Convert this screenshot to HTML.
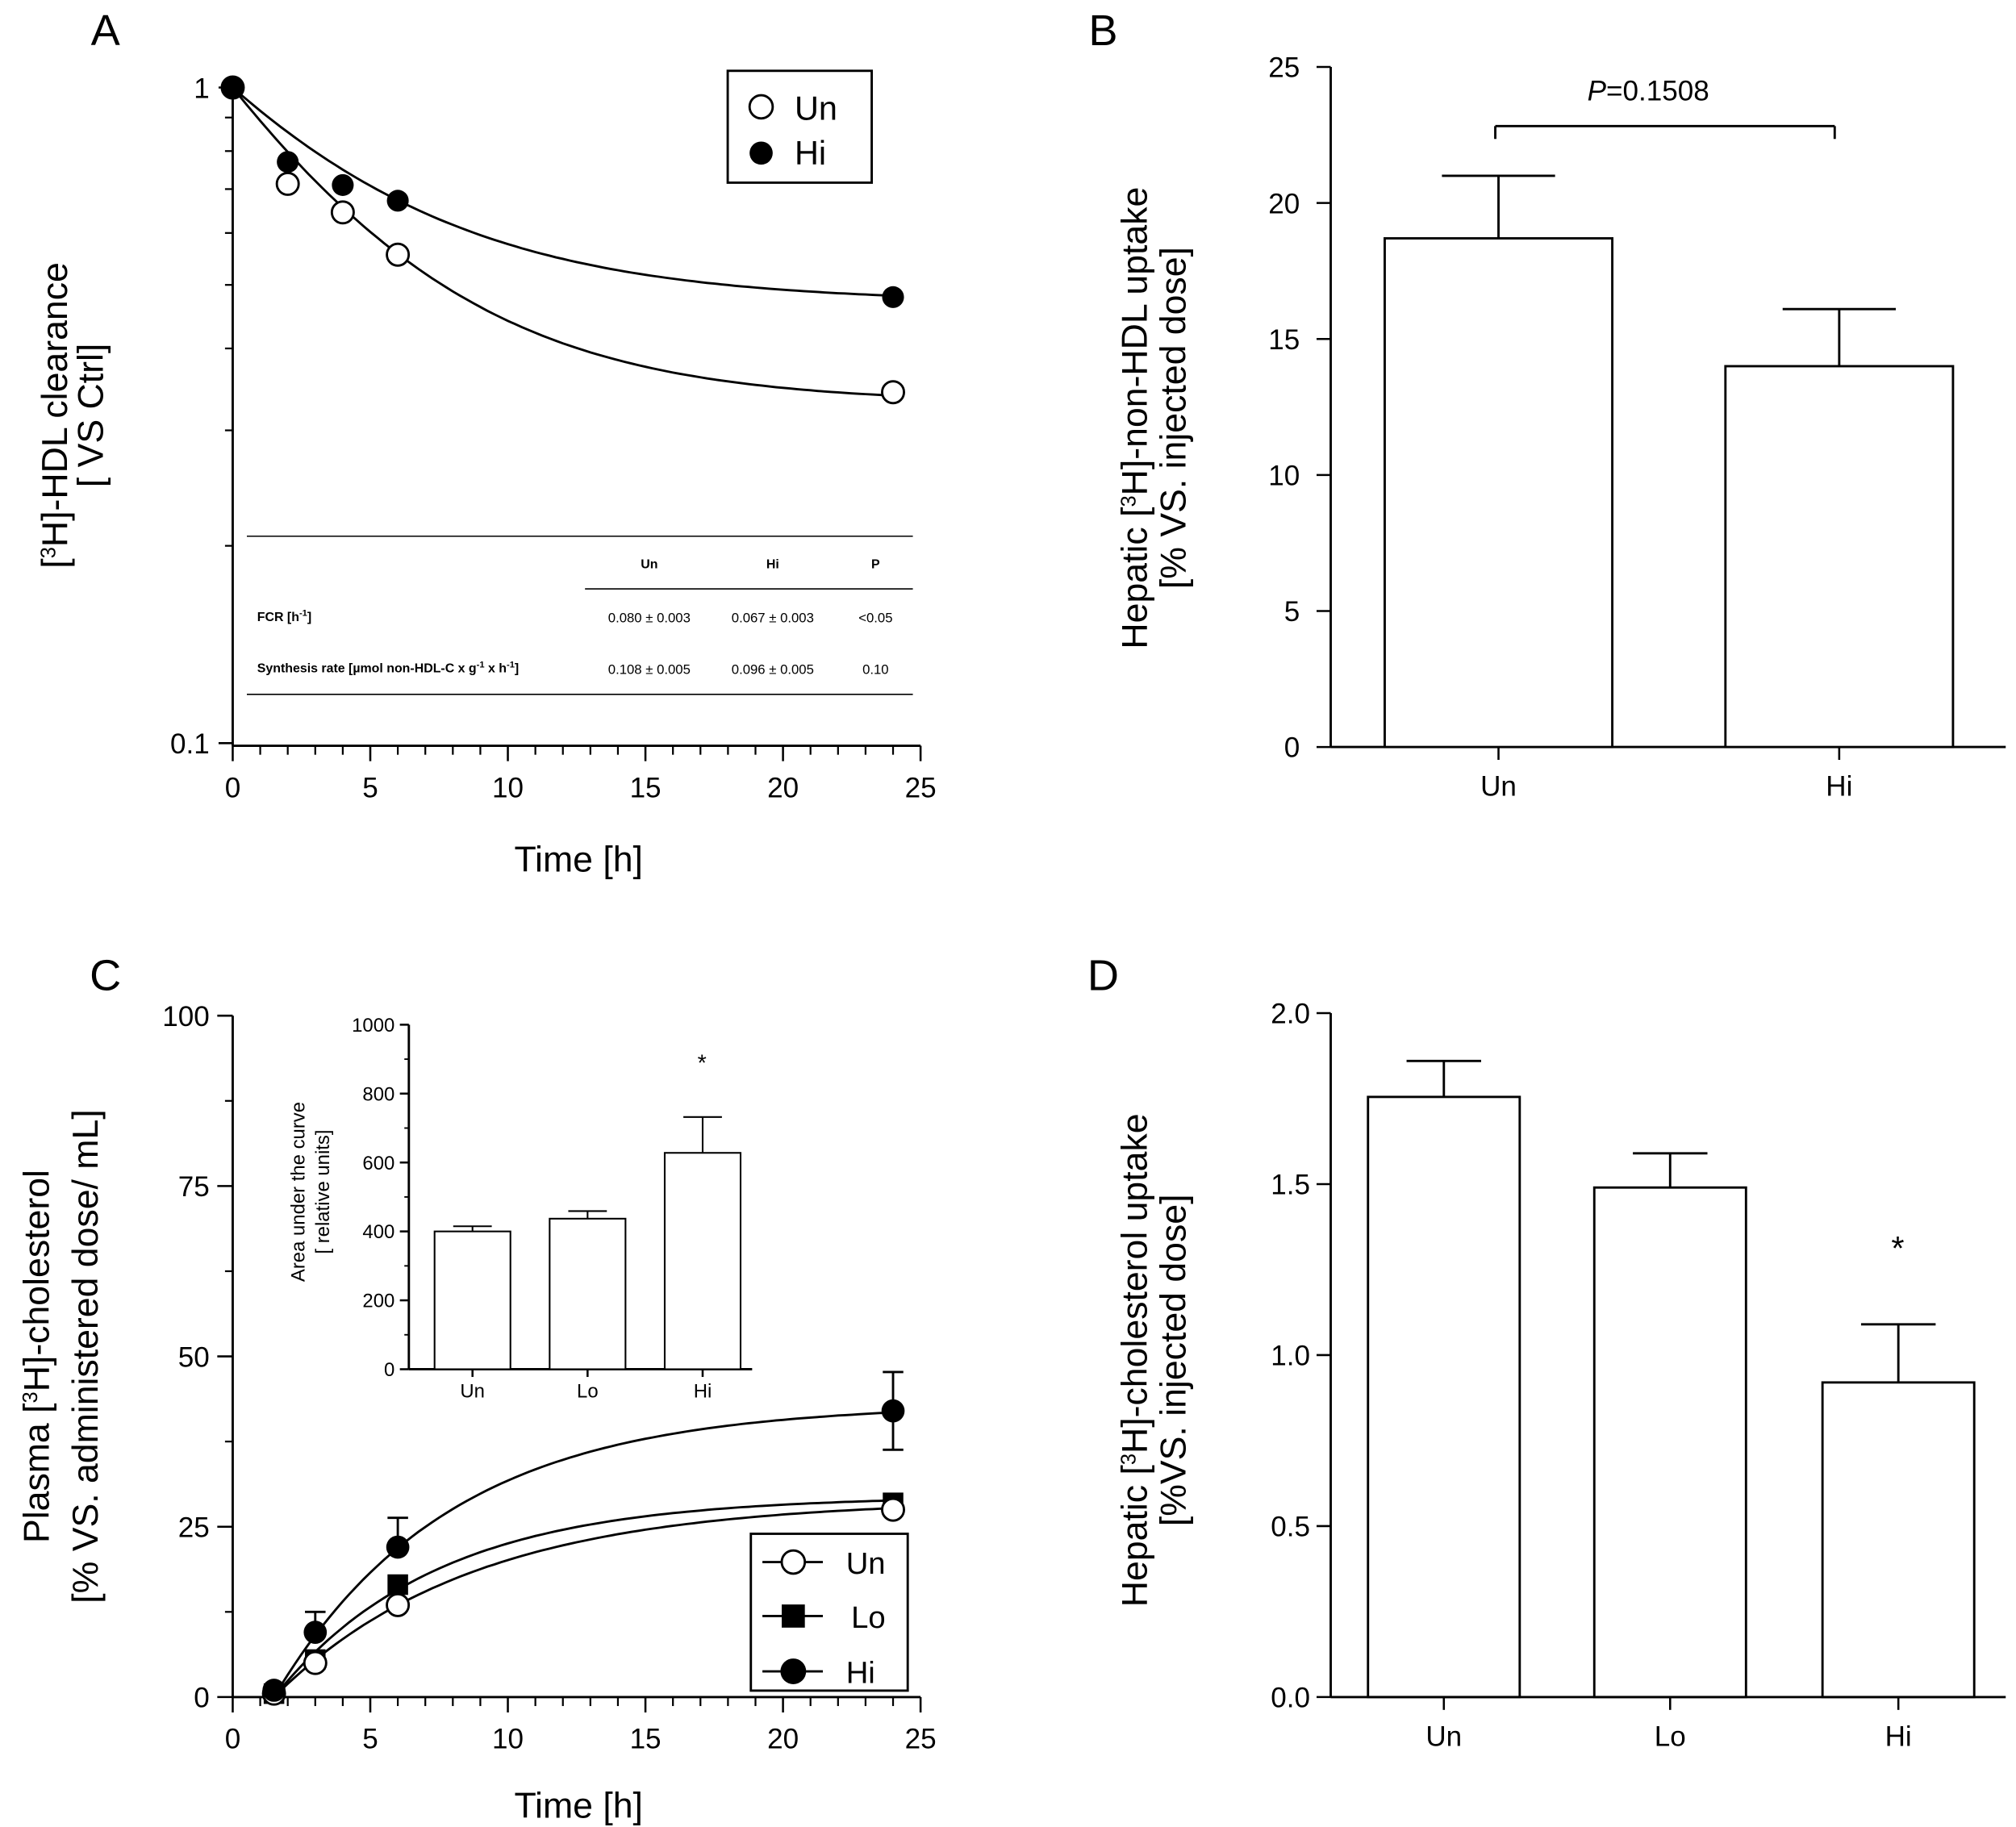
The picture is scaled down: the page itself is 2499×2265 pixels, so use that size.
<!DOCTYPE html>
<html><head><meta charset="utf-8"><style>
html,body{margin:0;padding:0;background:#fff}
svg{display:block;font-family:"Liberation Sans",Arial,sans-serif}
</style></head><body>
<svg id="fig" width="2499" height="2265" viewBox="0 0 1568 1421" xmlns="http://www.w3.org/2000/svg"></svg>
<script>
// ---- Panel A data ----
const aTimes=[0,2,4,6,24];
const aUn=[1,0.713,0.645,0.556,0.343];
const aHi=[1,0.77,0.71,0.672,0.479];
const aUnFit=[0.33,0.18]; // plateau, rate
const aHiFit=[0.47,0.16];
const xTicks=[0,5,10,15,20,25];
// ---- Panel B data ----
const bCats=['Un','Hi'];
const bVals=[18.7,14.0];
const bErr=[2.3,2.1];
const bTicks=[0,5,10,15,20,25];
// ---- Panel C data ----
const cTimes=[1.5,3,6,24];
const cUn=[0.5,5,13.5,27.5];
const cLo=[0.5,5.5,16.5,28.5];
const cHi=[1,9.5,22,42];
const cHiErr=[0,3,4.3,5.7];
const cUnFit=[29,0.139];
const cLoFit=[29.5,0.17];
const cHiFit=[43,0.158];
const cTicks=[0,25,50,75,100];
// inset
const iCats=['Un','Lo','Hi'];
const iVals=[400,437,628];
const iErr=[15,22,104];
const iTicks=[0,200,400,600,800,1000];
// ---- Panel D data ----
const dCats=['Un','Lo','Hi'];
const dVals=[1.755,1.49,0.92];
const dErr=[0.105,0.10,0.17];
const dTicks=[0,0.5,1.0,1.5,2.0];

const svg=document.getElementById('fig');
const NS='http://www.w3.org/2000/svg';
function el(tag,attrs,parent){const e=document.createElementNS(NS,tag);for(const k in attrs)e.setAttribute(k,attrs[k]);(parent||svg).appendChild(e);return e;}
function line(x1,y1,x2,y2,w,p){return el('line',{x1,y1,x2,y2,stroke:'#000','stroke-width':w||1.6},p);}
function text(x,y,s,size,anchor,p,extra){const t=el('text',Object.assign({x,y,'font-size':size,'text-anchor':anchor||'middle',fill:'#000'},extra||{}),p);t.innerHTML=s;return t;}
function grp(name){const g=el('g',{});return g;}

// ===== Panel A =====
const gA=grp('panel-a');
const axA=x=>181+x*(716-181)/25;
const ayA=v=>68-Math.log10(v)*510;
text(82,35,'A',34,'middle',gA);
line(181,60,181,580,1.8,gA);line(181,580,716,580,1.8,gA);
xTicks.forEach(t=>{line(axA(t),580,axA(t),592,1.6,gA);const l=text(axA(t),620,t,22,'middle',gA);});
for(let t=1;t<25;t++)if(t%5)line(axA(t),580,axA(t),587,1.4,gA);
line(170,ayA(1),181,ayA(1),1.6,gA);line(170,ayA(0.1),181,ayA(0.1),1.6,gA);
for(let v=0.2;v<0.95;v+=0.1)line(175,ayA(v),181,ayA(v),1.4,gA);
text(163,ayA(1)+8,'1',22,'end',gA);text(163,ayA(0.1)+8,'0.1',22,'end',gA);
const ytA=text(0,0,'[<tspan font-size="16" dy="-9">3</tspan><tspan dy="9">H]-HDL clearance</tspan>',28,'middle',gA,{transform:'translate(52,323) rotate(-90)'});

text(0,0,'[ VS Ctrl]',28,'middle',gA,{transform:'translate(80,323) rotate(-90)'});
text(450,678,'Time [h]',28,'middle',gA);
function curveA(fit){let d='';for(let t=0;t<=24;t+=0.25){const v=fit[0]+(1-fit[0])*Math.exp(-fit[1]*t);d+=(t?'L':'M')+axA(t).toFixed(1)+','+ayA(v).toFixed(1);}return d;}
el('path',{d:curveA(aUnFit),fill:'none',stroke:'#000','stroke-width':1.8},gA);
el('path',{d:curveA(aHiFit),fill:'none',stroke:'#000','stroke-width':1.8},gA);
aTimes.forEach((t,i)=>{const c=el('circle',{cx:axA(t),cy:ayA(aUn[i]),r:8.5,fill:'#fff',stroke:'#000','stroke-width':1.8},gA);});
aTimes.forEach((t,i)=>{const c=el('circle',{cx:axA(t),cy:ayA(aHi[i]),r:8.5,fill:'#000'},gA);});
const lgA=el('g',{},gA);
el('rect',{x:566,y:55,width:112,height:87,fill:'#fff',stroke:'#000','stroke-width':1.8},lgA);
el('circle',{cx:592,cy:83,r:9,fill:'#fff',stroke:'#000','stroke-width':1.8},lgA);text(618,93,'Un',26,'start',lgA);
el('circle',{cx:592,cy:119,r:9,fill:'#000'},lgA);text(618,128,'Hi',26,'start',lgA);
// table
const tb=el('g',{},gA);
line(192,417,710,417,1,tb);line(455,458,710,458,1,tb);line(192,540,710,540,1,tb);
text(505,442,'Un',10,'middle',tb,{'font-weight':'bold'});text(601,442,'Hi',10,'middle',tb,{'font-weight':'bold'});text(681,442,'P',10,'middle',tb,{'font-weight':'bold'});
text(200,483,'FCR [h<tspan font-size="7" dy="-4">-1</tspan><tspan dy="4">]</tspan>',10,'start',tb,{'font-weight':'bold'});
text(505,484,'0.080 ± 0.003',10.5,'middle',tb);text(601,484,'0.067 ± 0.003',10.5,'middle',tb);text(681,484,'&lt;0.05',10.5,'middle',tb);
text(200,523,'Synthesis rate [µmol non-HDL-C x g<tspan font-size="7" dy="-4">-1</tspan><tspan dy="4"> x h</tspan><tspan font-size="7" dy="-4">-1</tspan><tspan dy="4">]</tspan>',10,'start',tb,{'font-weight':'bold'});
text(505,524,'0.108 ± 0.005',10.5,'middle',tb);text(601,524,'0.096 ± 0.005',10.5,'middle',tb);text(681,524,'0.10',10.5,'middle',tb);

// ===== Bar helper =====
function barPanel(g,opts){
  const {x0,x1,y0,yTop,max,ticks,cats,vals,errs,centers,bw,capw,fmt,tickLen}=opts;
  const ay=v=>y0-(v/max)*(y0-yTop);
  line(x0,yTop,x0,y0,1.8,g);line(x0,y0,x1,y0,1.8,g);
  ticks.forEach(t=>{line(x0-tickLen,ay(t),x0,ay(t),1.6,g);const l=text(x0-opts.lblGap,ay(t)+opts.fs*0.36,fmt(t),opts.fs,'end',g);});
  if(opts.minor)for(let i=0;i<ticks.length-1;i++){const m=(ticks[i]+ticks[i+1])/2;line(x0-tickLen/2,ay(m),x0,ay(m),1.2,g);}
  cats.forEach((c,i)=>{
    const cx=centers[i];
    const r=el('rect',{x:cx-bw/2,y:ay(vals[i]),width:bw,height:y0-ay(vals[i]),fill:'#fff',stroke:'#000','stroke-width':opts.sw||1.8},g);
    
    const e=ay(vals[i]+errs[i]);line(cx,ay(vals[i]),cx,e,opts.sw||1.8,g);line(cx-capw/2,e,cx+capw/2,e,opts.sw||1.8,g);
    if(opts.xtick)line(cx,y0,cx,y0+opts.xtick,1.6,g);
    const l=text(cx,y0+opts.xlblGap,c,opts.xfs||opts.fs,'middle',g);
  });
  return ay;
}

// ===== Panel B =====
const gB=grp('panel-b');
text(858,35,'B',34,'middle',gB);
barPanel(gB,{x0:1035,x1:1560,y0:581,yTop:52,max:25,ticks:bTicks,cats:bCats,vals:bVals,errs:bErr,centers:[1165.5,1430.5],bw:177,capw:88,fmt:t=>t,tickLen:11,lblGap:24,fs:22,xlblGap:38,xtick:10});
const br=el('g',{},gB);
line(1163,98,1427,98,1.8,br);line(1163,98,1163,108,1.8,br);line(1427,98,1427,108,1.8,br);
text(1282,78,'<tspan font-style="italic">P</tspan>=0.1508',22,'middle',br);
text(0,0,'Hepatic [<tspan font-size="16" dy="-9">3</tspan><tspan dy="9">H]-non-HDL uptake</tspan>',28,'middle',gB,{transform:'translate(892,325) rotate(-90)'});
text(0,0,'[% VS. injected dose]',28,'middle',gB,{transform:'translate(922,325) rotate(-90)'});

// ===== Panel C =====
const gC=grp('panel-c');
const axC=x=>181+x*(716-181)/25;
const ayC=v=>1320-v*5.3;
text(82,770,'C',34,'middle',gC);
line(181,790,181,1320,1.8,gC);line(181,1320,716,1320,1.8,gC);
xTicks.forEach(t=>{line(axC(t),1320,axC(t),1332,1.6,gC);text(axC(t),1360,t,22,'middle',gC);});
for(let t=1;t<25;t++)if(t%5)line(axC(t),1320,axC(t),1327,1.4,gC);
cTicks.forEach(t=>{line(169,ayC(t),181,ayC(t),1.6,gC);text(163,ayC(t)+8,t,22,'end',gC);});
for(let t=12.5;t<100;t+=25)line(175,ayC(t),181,ayC(t),1.4,gC);
text(0,0,'Plasma [<tspan font-size="16" dy="-9">3</tspan><tspan dy="9">H]-cholesterol</tspan>',28,'middle',gC,{transform:'translate(38,1055) rotate(-90)'});
text(0,0,'[% VS. administered dose/ mL]',28,'middle',gC,{transform:'translate(76,1055) rotate(-90)'});
text(450,1414,'Time [h]',28,'middle',gC);
function curveC(fit){let d='';for(let t=1.5;t<=24.01;t+=0.25){const v=fit[0]*(1-Math.exp(-fit[1]*(t-1.5)));d+=(t>1.5?'L':'M')+axC(t).toFixed(1)+','+ayC(v).toFixed(1);}return d;}
[cUnFit,cLoFit,cHiFit].forEach((f,i)=>{el('path',{d:curveC(f),fill:'none',stroke:'#000','stroke-width':1.8},gC);});
cTimes.forEach((t,i)=>{if(cHiErr[i]>0){const x=axC(t);line(x,ayC(cHi[i]-(i==3?cHiErr[i]:0)),x,ayC(cHi[i]+cHiErr[i]),1.8,gC);line(x-8,ayC(cHi[i]+cHiErr[i]),x+8,ayC(cHi[i]+cHiErr[i]),1.8,gC);if(i==3)line(x-8,ayC(cHi[i]-cHiErr[i]),x+8,ayC(cHi[i]-cHiErr[i]),1.8,gC);}});
cTimes.forEach((t,i)=>{const r=el('rect',{x:axC(t)-8,y:ayC(cLo[i])-8,width:16,height:16,fill:'#000'},gC);});
cTimes.forEach((t,i)=>{const c=el('circle',{cx:axC(t),cy:ayC(cUn[i]),r:8.5,fill:'#fff',stroke:'#000','stroke-width':1.8},gC);});
cTimes.forEach((t,i)=>{const c=el('circle',{cx:axC(t),cy:ayC(cHi[i]),r:9,fill:'#000'},gC);});
const lgC=el('g',{},gC);
el('rect',{x:584,y:1193,width:122,height:122,fill:'#fff',stroke:'#000','stroke-width':1.8},lgC);
[['Un',1215],['Lo',1257],['Hi',1300]].forEach(([n,y],i)=>{line(593,y,640,y,1.8,lgC);
 if(i==0)el('circle',{cx:617,cy:y,r:9,fill:'#fff',stroke:'#000','stroke-width':1.8},lgC);
 else if(i==1)el('rect',{x:608,y:y-9,width:18,height:18,fill:'#000'},lgC);
 else el('circle',{cx:617,cy:y,r:10,fill:'#000'},lgC);
 text(i==1?662:658,y+9,n,24,'start',lgC);});
// inset
const gI=el('g',{},gC);
barPanel(gI,{x0:318,x1:585,y0:1065,yTop:797,max:1000,ticks:iTicks,cats:iCats,vals:iVals,errs:iErr,centers:[367.5,457,546.5],bw:59,capw:30,fmt:t=>t,tickLen:7,lblGap:11,fs:15,xlblGap:22,xtick:6,minor:true,sw:1.3});
text(0,0,'Area under the curve',15,'middle',gI,{transform:'translate(237,927) rotate(-90)'});
text(0,0,'[ relative units]',15,'middle',gI,{transform:'translate(256,927) rotate(-90)'});
text(546,833,'*',18,'middle',gI);

// ===== Panel D =====
const gD=grp('panel-d');
text(858,770,'D',34,'middle',gD);
barPanel(gD,{x0:1035,x1:1560,y0:1320,yTop:788,max:2,ticks:dTicks,cats:dCats,vals:dVals,errs:dErr,centers:[1123,1299,1476.5],bw:118,capw:58,fmt:t=>t.toFixed(1),tickLen:11,lblGap:16,fs:22,xlblGap:38,xtick:10});
text(1476,980,'*',26,'middle',gD);
text(0,0,'Hepatic [<tspan font-size="16" dy="-9">3</tspan><tspan dy="9">H]-cholesterol uptake</tspan>',28,'middle',gD,{transform:'translate(892,1058) rotate(-90)'});
text(0,0,'[%VS. injected dose]',28,'middle',gD,{transform:'translate(922,1058) rotate(-90)'});
</script>
</body></html>
